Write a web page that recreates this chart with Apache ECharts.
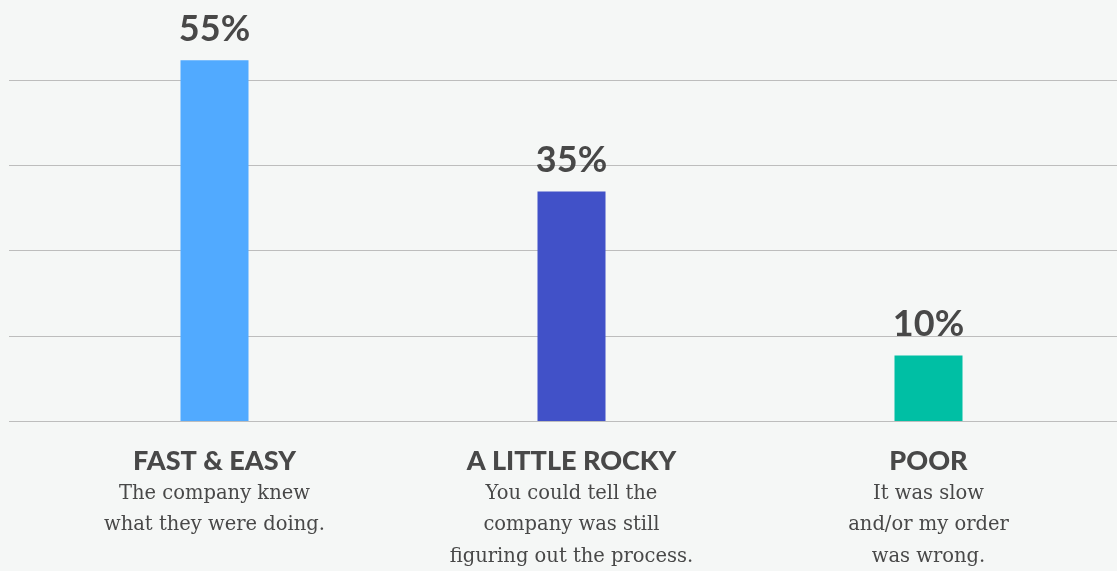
<!DOCTYPE html>
<html>
<head>
<meta charset="utf-8">
<script src="https://cdn.jsdelivr.net/npm/echarts@6/dist/echarts.min.js"></script>
<style>
  html, body { margin: 0; padding: 0; background: #f5f7f6; }
  #chart { width: 1117px; height: 571px; }
</style>
</head>
<body>
<div id="chart"></div>
<script>
// Experience ratings, share of respondents (%)
const categories = ['FAST & EASY', 'A LITTLE ROCKY', 'POOR'];
const descriptions = [
  'The company knew\nwhat they were doing.',
  'You could tell the\ncompany was still\nfiguring out the process.',
  'It was slow\nand/or my order\nwas wrong.'
];
const values = [55, 35, 10];
const barColors = ['#51aaff', '#4151c8', '#00bfa4'];

const textColor = '#484848';
const yMax = 64.2;
const yStep = 13;

const chart = echarts.init(document.getElementById('chart'), null, { renderer: 'canvas' });

chart.setOption({
  backgroundColor: '#f5f7f6',
  animation: false,
  grid: [
    // full-width grid carrying the horizontal rules
    { left: 9, right: 0, top: 0, bottom: 150, containLabel: false },
    // grid holding the bars and their category labels
    { left: 36, right: 10, top: 0, bottom: 150, containLabel: false }
  ],
  xAxis: [
    { type: 'value', gridIndex: 0, min: 0, max: 1, show: false },
    {
      type: 'category',
      gridIndex: 1,
      data: categories,
      axisLine: { show: false },
      axisTick: { show: false },
      axisLabel: {
        interval: 0,
        margin: 23,
        color: textColor,
        formatter: (name, idx) => {
          const sub = descriptions[idx].split('\n').map(s => '{sub|' + s + '}').join('\n');
          return '{title|' + name + '}\n' + sub;
        },
        rich: {
          title: {
            fontFamily: 'Lato',
            fontWeight: 900,
            fontSize: 27,
            lineHeight: 34,
            color: textColor
          },
          sub: {
            fontFamily: '"DejaVu Serif"',
            fontSize: 19.5,
            lineHeight: 31.5,
            color: textColor
          }
        }
      }
    }
  ],
  yAxis: [
    {
      type: 'value', gridIndex: 0, min: 0, max: yMax, interval: yStep,
      axisLine: { show: false }, axisTick: { show: false }, axisLabel: { show: false },
      splitLine: { show: true, showMaxLine: false, lineStyle: { color: '#bdbdbd', width: 1 } }
    },
    {
      type: 'value', gridIndex: 1, min: 0, max: yMax, interval: yStep,
      show: false, splitLine: { show: false }
    }
  ],
  series: [
    {
      type: 'bar',
      xAxisIndex: 1,
      yAxisIndex: 1,
      barWidth: 68,
      data: values.map((v, i) => ({ value: v, itemStyle: { color: barColors[i] } })),
      label: {
        show: true,
        position: 'top',
        distance: 13,
        formatter: p => p.value + '%',
        fontFamily: 'Lato',
        fontWeight: 'bold',
        fontSize: 36,
        color: textColor
      }
    }
  ]
});
</script>
</body>
</html>
